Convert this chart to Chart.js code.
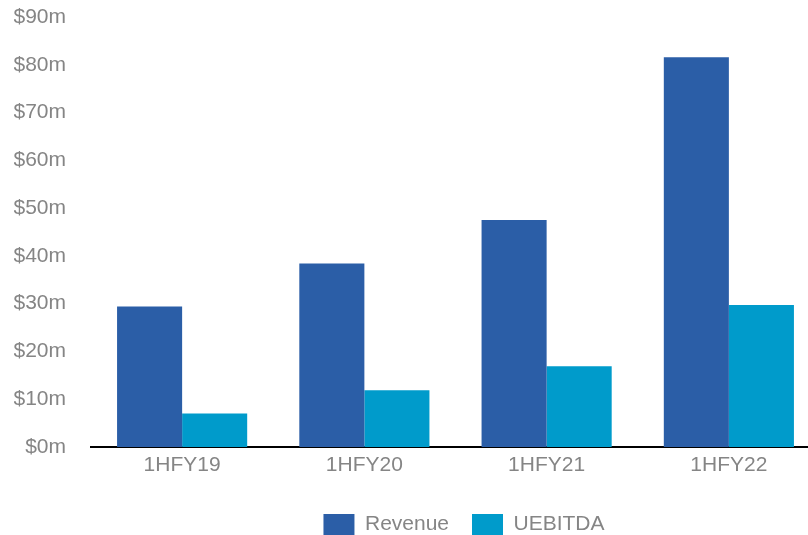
<!DOCTYPE html>
<html>
<head>
<meta charset="utf-8">
<script src="https://cdn.jsdelivr.net/npm/chart.js@4/dist/chart.umd.min.js"></script>
<style>
  html, body { margin: 0; padding: 0; background: #fff; overflow: hidden; }
  #wrap { width: 830px; height: 535px; }
</style>
</head>
<body>
<div id="wrap"><canvas id="chart" width="830" height="535"></canvas></div>
<script>
// values ($m)
const periods = ['1HFY19', '1HFY20', '1HFY21', '1HFY22'];
const revenue = [29.4, 38.4, 47.5, 81.6];
const uebitda = [7.0, 11.9, 16.9, 29.7];
const yTicks = [0, 10, 20, 30, 40, 50, 60, 70, 80, 90];

const FONT = "'Liberation Sans', Arial, sans-serif";
const GREY = '#858585';

// nudge legend over to where it sits in the original
const legendShift = {
    id: 'legendShift',
    afterLayout(chart) {
        const lg = chart.legend;
        if (!lg) return;
        const dx = 464 - (lg.left + lg.right) / 2;
        lg.left += dx; lg.right += dx;
        lg.top += 10; lg.bottom += 10;
    }
};

new Chart(document.getElementById('chart'), {
    type: 'bar',
    data: {
        labels: periods,
        datasets: [
            { label: 'Revenue', data: revenue, backgroundColor: '#2B5EA7' },
            { label: 'UEBITDA', data: uebitda, backgroundColor: '#009BCB' }
        ]
    },
    options: {
        responsive: false,
        animation: false,
        layout: { padding: { left: 14, top: 0, right: 10, bottom: 0 } },
        datasets: { bar: { categoryPercentage: 0.714, barPercentage: 1.0, borderWidth: 0 } },
        plugins: {
            tooltip: { enabled: false },
            legend: {
                position: 'bottom',
                labels: {
                    boxWidth: 31, boxHeight: 21, padding: 23,
                    color: GREY, font: { family: FONT, size: 21 }
                }
            }
        },
        scales: {
            x: {
                grid: { display: false, drawTicks: false },
                border: { display: true, color: '#000', width: 2 },
                ticks: { color: GREY, font: { family: FONT, size: 21 }, padding: 6, maxRotation: 0 },
                afterFit(scale) { scale.height = 34; }
            },
            y: {
                min: 0, max: 90,
                grid: { display: false, drawTicks: false },
                border: { display: false },
                afterBuildTicks(scale) { scale.ticks = yTicks.map(v => ({ value: v })); },
                ticks: {
                    color: GREY, font: { family: FONT, size: 21 }, padding: 25,
                    callback: v => '$' + v + 'm'
                },
                afterFit(scale) {
                    scale.width = 77;
                    scale.paddingTop = 17;
                    scale.paddingBottom = 0;
                }
            }
        }
    },
    plugins: [legendShift]
});
</script>
</body>
</html>
